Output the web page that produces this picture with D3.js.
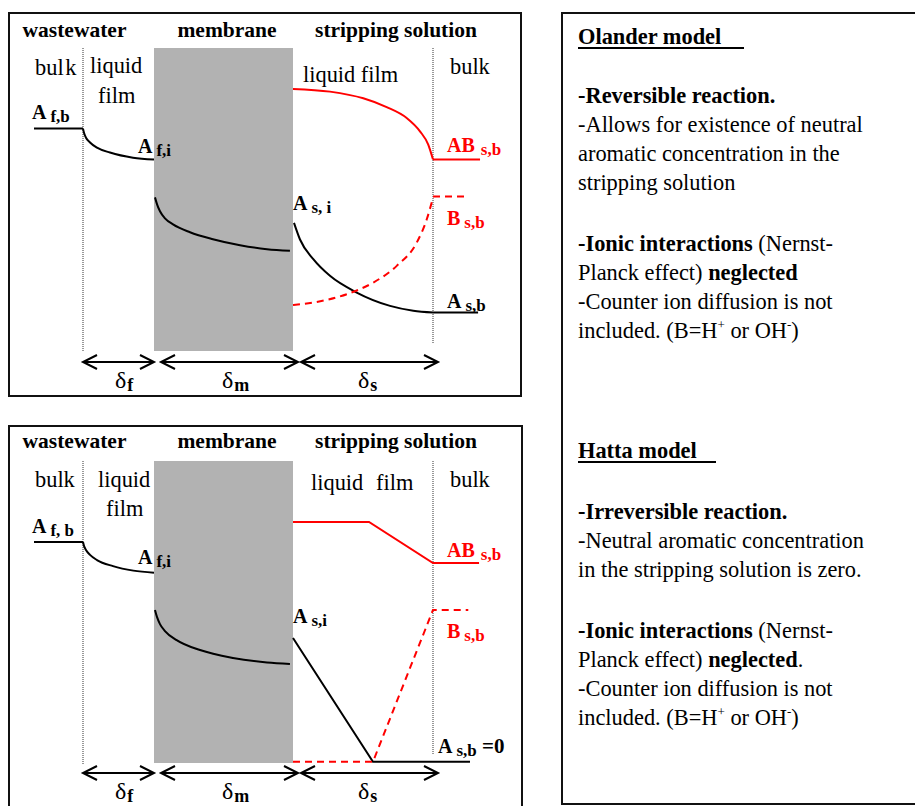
<!DOCTYPE html>
<html>
<head>
<meta charset="utf-8">
<script src="https://cdn.jsdelivr.net/npm/d3@7"></script>
<style>
body { margin: 0; background: #fff; }
text { font-family: "Liberation Serif", "Times New Roman", serif; }
</style>
</head>
<body>
<script>
const width = 915;
const height = 806;

// zone edges: feed bulk | feed film | membrane | stripping film | stripping bulk
const zoneEdges = [0, 1, 2, 3, 4, 5];
const headers = ["wastewater", "membrane", "stripping solution"];
const deltas = ["f", "m", "s"];

// Olander model profiles, [distance, relative concentration]
const olFeedBulk = [[0, 0.734], [1, 0.734]];
const olFeedFilm = [[1, 0.734], [1.014, 0.72], [1.042, 0.704], [1.099, 0.688], [1.197, 0.671], [1.38, 0.655], [1.704, 0.638], [2, 0.632]];
const olMembrane = [[2.007, 0.507], [2.022, 0.484], [2.043, 0.461], [2.079, 0.438], [2.137, 0.418], [2.259, 0.392], [2.424, 0.369], [2.619, 0.349], [2.813, 0.336], [2.978, 0.331]];
const olStripA = [[3.007, 0.423], [3.05, 0.368], [3.145, 0.303], [3.264, 0.248], [3.455, 0.193], [3.693, 0.149], [3.859, 0.133], [4, 0.127]];
const olBulkA = [[4, 0.127], [4.92, 0.127]];
const olStripB = [[3, 0.152], [3.145, 0.16], [3.384, 0.1875], [3.574, 0.226], [3.741, 0.281], [3.884, 0.358], [3.955, 0.434], [4, 0.506]];
const olBulkB = [[4, 0.51], [4.71, 0.51]];
const olStripAB = [[3, 0.865], [3.264, 0.856], [3.502, 0.834], [3.669, 0.805], [3.812, 0.769], [3.907, 0.725], [3.966, 0.681], [4, 0.632]];
const olBulkAB = [[4, 0.632], [4.96, 0.632]];

// Hatta model profiles
const haFeedBulk = [[0, 0.732], [1, 0.732]];
const haFeedFilm = [[1, 0.732], [1.014, 0.719], [1.042, 0.705], [1.099, 0.689], [1.197, 0.672], [1.423, 0.652], [1.709, 0.637], [2, 0.63]];
const haMembrane = [[2.007, 0.507], [2.022, 0.483], [2.043, 0.46], [2.079, 0.437], [2.163, 0.407], [2.331, 0.374], [2.568, 0.348], [2.813, 0.333], [2.978, 0.328]];
const haStripA = [[3, 0.414], [3.571, 0.004], [4.755, 0.004]];
const haStripB = [[3, 0.004], [3.571, 0.004], [4, 0.507], [4.72, 0.507]];
const haStripAB = [[3, 0.798], [3.543, 0.798], [4, 0.662], [4.94, 0.662]];

const olanderText = [
  [["Olander model", true]],
  [["-Reversible reaction.", true]],
  [["-Allows for existence of neutral", false]],
  [["aromatic concentration in the", false]],
  [["stripping solution", false]],
  [["-Ionic interactions", true], [" (Nernst-", false]],
  [["Planck effect) ", false], ["neglected", true]],
  [["-Counter ion diffusion is not", false]],
  "ions"
];
const hattaText = [
  [["Hatta model", true]],
  [["-Irreversible reaction.", true]],
  [["-Neutral aromatic concentration", false]],
  [["in the stripping solution is zero.", false]],
  [["-Ionic interactions", true], [" (Nernst-", false]],
  [["Planck effect) ", false], ["neglected", true], [".", false]],
  [["-Counter ion diffusion is not", false]],
  "ions"
];

const red = "#ff0000";

const svg = d3.select("body").append("svg")
  .attr("width", width)
  .attr("height", height);

const x = d3.scaleLinear().domain(zoneEdges).range([34, 83, 154, 293, 433, 482]);

function label(g, lx, ly, main, sub, color, extra) {
  const t = g.append("text")
    .attr("x", lx).attr("y", ly)
    .attr("fill", color)
    .attr("font-weight", "bold")
    .attr("font-size", 20);
  t.append("tspan").text(main);
  t.append("tspan").attr("dx", main.length > 1 ? 6 : 4).attr("dy", 3).attr("font-size", 17).text(sub);
  if (extra) t.append("tspan").attr("dy", -3).attr("font-size", 21).text(extra);
}

function arrow(g, x1, x2, yy) {
  const p = d3.path();
  p.moveTo(x1, yy); p.lineTo(x2, yy);
  p.moveTo(x1 + 14, yy - 7); p.lineTo(x1, yy); p.lineTo(x1 + 14, yy + 7);
  p.moveTo(x2 - 14, yy - 7); p.lineTo(x2, yy); p.lineTo(x2 - 14, yy + 7);
  g.append("path").attr("d", p.toString())
    .attr("fill", "none").attr("stroke", "#000").attr("stroke-width", 2);
}

function drawPanel(cfg) {
  const g = svg.append("g");
  const y = d3.scaleLinear().domain([0, 1]).range(cfg.yRange);

  g.append("rect")
    .attr("x", cfg.frame[0]).attr("y", cfg.frame[1])
    .attr("width", cfg.frame[2]).attr("height", cfg.frame[3])
    .attr("fill", "none").attr("stroke", "#111").attr("stroke-width", 2);

  // membrane
  g.append("rect")
    .attr("x", x(2)).attr("y", y(1))
    .attr("width", x(3) - x(2)).attr("height", y(0) - y(1))
    .attr("fill", "#b2b2b2");

  // film boundaries
  g.append("line").attr("x1", x(1)).attr("x2", x(1))
    .attr("y1", y(1)).attr("y2", y(0) + 1)
    .attr("stroke", "#333").attr("stroke-width", 1).attr("stroke-dasharray", "1,1");
  g.append("line").attr("x1", x(4)).attr("x2", x(4))
    .attr("y1", y(1)).attr("y2", y(0) - cfg.rightDotShort)
    .attr("stroke", "#333").attr("stroke-width", 1).attr("stroke-dasharray", "1,1");

  // headers
  const hx = [74.5, 227, 396];
  headers.forEach((h, i) => {
    g.append("text").attr("x", hx[i]).attr("y", cfg.headerY)
      .attr("text-anchor", "middle").attr("font-weight", "bold")
      .attr("font-size", 21.5).text(h);
  });

  const lineStraight = d3.line().x(d => x(d[0])).y(d => y(d[1]));
  const lineCurve = d3.line().x(d => x(d[0])).y(d => y(d[1])).curve(d3.curveMonotoneX);

  cfg.series.forEach(s => {
    g.append("path")
      .datum(s.data)
      .attr("d", s.curved ? lineCurve : lineStraight)
      .attr("fill", "none")
      .attr("stroke", s.color)
      .attr("stroke-width", 2)
      .attr("stroke-dasharray", s.dashed ? "7,5" : null);
  });

  // thickness arrows
  const ay = cfg.arrowY;
  arrow(g, x(1), x(2), ay);
  arrow(g, x(2) + 7, x(3) + 5, ay);
  arrow(g, x(3) + 8, x(4) + 5, ay);
  const dx = [115, 222, 358];
  deltas.forEach((d, i) => {
    const t = g.append("text").attr("x", dx[i]).attr("y", cfg.arrowY + 26).attr("font-size", 24);
    t.append("tspan").text("δ");
    t.append("tspan").attr("dx", 1).attr("dy", 3).attr("font-size", 18).attr("font-weight", "bold").text(d);
  });

  return g;
}

// ---- Olander panel
const topPanel = drawPanel({
  frame: [9, 13, 512, 383],
  yRange: [351, 48],
  headerY: 37,
  arrowY: 362,
  rightDotShort: 8,
  series: [
    { data: olFeedBulk, color: "#000" },
    { data: olFeedFilm, color: "#000", curved: true },
    { data: olMembrane, color: "#000", curved: true },
    { data: olStripA, color: "#000", curved: true },
    { data: olBulkA, color: "#000" },
    { data: olStripB, color: red, curved: true, dashed: true },
    { data: olBulkB, color: red, dashed: true },
    { data: olStripAB, color: red, curved: true },
    { data: olBulkAB, color: red }
  ]
});
let bk = topPanel.append("text").attr("x", 35).attr("y", 75).attr("font-size", 22.4);
bk.append("tspan").text("bul");
bk.append("tspan").attr("dx", 1.5).text("k");
topPanel.append("text").attr("x", 90).attr("y", 73).attr("font-size", 22.4).text("liquid");
topPanel.append("text").attr("x", 98).attr("y", 103).attr("font-size", 22.4).text("film");
topPanel.append("text").attr("x", 303).attr("y", 82).attr("font-size", 22.4).text("liquid film");
topPanel.append("text").attr("x", 450).attr("y", 74).attr("font-size", 22.4).text("bulk");
label(topPanel, 32, 119, "A", "f,b", "#000");
label(topPanel, 138, 153, "A", "f,i", "#000");
label(topPanel, 293, 210, "A", "s, i", "#000");
label(topPanel, 447, 152, "AB", "s,b", red);
label(topPanel, 447, 225, "B", "s,b", red);
label(topPanel, 447, 308, "A", "s,b", "#000");

// ---- Hatta panel
const botPanel = drawPanel({
  frame: [9, 426, 513, 420],
  yRange: [763, 461],
  headerY: 448,
  arrowY: 773,
  rightDotShort: 8,
  series: [
    { data: haFeedBulk, color: "#000" },
    { data: haFeedFilm, color: "#000", curved: true },
    { data: haMembrane, color: "#000", curved: true },
    { data: haStripA, color: "#000" },
    { data: haStripB, color: red, dashed: true },
    { data: haStripAB, color: red }
  ]
});
botPanel.append("text").attr("x", 35).attr("y", 487).attr("font-size", 22.4).text("bulk");
botPanel.append("text").attr("x", 98).attr("y", 487).attr("font-size", 22.4).text("liquid");
botPanel.append("text").attr("x", 106).attr("y", 516).attr("font-size", 22.4).text("film");
botPanel.append("text").attr("x", 311).attr("y", 490).attr("font-size", 22.4).text("liquid");
botPanel.append("text").attr("x", 376).attr("y", 490).attr("font-size", 22.4).text("film");
botPanel.append("text").attr("x", 450).attr("y", 487).attr("font-size", 22.4).text("bulk");
label(botPanel, 32, 533, "A", "f, b", "#000");
label(botPanel, 138, 564, "A", "f,i", "#000");
label(botPanel, 293, 623, "A", "s,i", "#000");
label(botPanel, 447, 557, "AB", "s,b", red);
label(botPanel, 447, 638, "B", "s,b", red);
label(botPanel, 438, 753, "A", "s,b", "#000", " =0");

// ---- description box
svg.append("rect")
  .attr("x", 562).attr("y", 13).attr("width", 360).attr("height", 791)
  .attr("fill", "none").attr("stroke", "#111").attr("stroke-width", 2);

function textBlock(lines, baselines, underlineEnd) {
  const g = svg.append("g");
  lines.forEach((ln, i) => {
    const t = g.append("text").attr("x", 578).attr("y", baselines[i]).attr("font-size", 22.4);
    if (ln === "ions") {
      t.append("tspan").text("included. (B=H");
      t.append("tspan").attr("dy", -9).attr("font-size", 13).text("+");
      t.append("tspan").attr("dy", 9).text(" or OH");
      t.append("tspan").attr("dy", -9).attr("font-size", 13).text("-");
      t.append("tspan").attr("dy", 9).text(")");
    } else {
      ln.forEach(part => {
        t.append("tspan").attr("font-weight", part[1] ? "bold" : "normal").text(part[0]);
      });
    }
  });
  g.append("line")
    .attr("x1", 578).attr("x2", underlineEnd)
    .attr("y1", baselines[0] + 4).attr("y2", baselines[0] + 4)
    .attr("stroke", "#000").attr("stroke-width", 2);
}

textBlock(olanderText, [44, 103, 132, 161, 190, 251, 280, 309, 338], 744);
textBlock(hattaText, [458, 519, 548, 577, 638, 667, 696, 725], 716);
</script>
</body>
</html>
